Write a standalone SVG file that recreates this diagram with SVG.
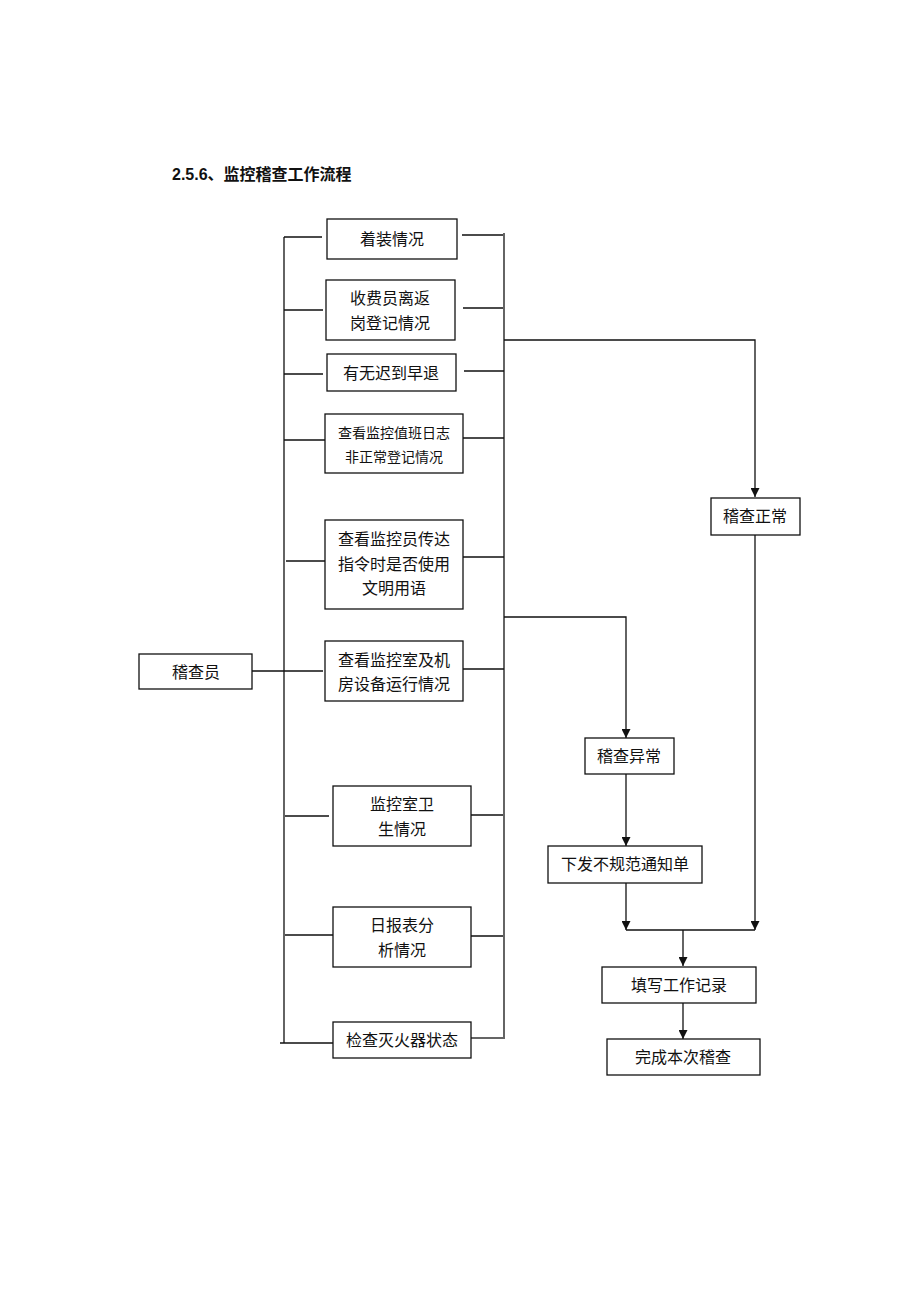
<svg xmlns="http://www.w3.org/2000/svg" width="920" height="1302" viewBox="0 0 920 1302">
<style>
.b{fill:#fff;stroke:#111;stroke-width:1.3}
.l{fill:none;stroke:#111;stroke-width:1.3}
.t{font-family:"Liberation Serif","Noto Sans CJK SC",serif;font-size:16px;fill:#111;text-anchor:middle}
.s{font-size:14px}
.h{font-family:"Liberation Sans","Noto Sans CJK SC",sans-serif;font-size:16px;font-weight:bold;fill:#111}
</style>
<defs>
<marker id="a" viewBox="0 0 10 10" refX="10" refY="5" markerWidth="9" markerHeight="9" markerUnits="userSpaceOnUse" orient="auto"><path d="M0,0L10,5L0,10Z" fill="#111"/></marker>
</defs>
<rect width="920" height="1302" fill="#fff"/>
<text class="h" x="172" y="180">2.5.6、监控稽查工作流程</text>
<g id="connectors">
<path class="l" d="M284,237V1043M280,1043H333"/>
<path class="l" d="M504,233V1039"/>
<path class="l" d="M284,237H322M462,235H503"/>
<path class="l" d="M284,310H323M463,308H503"/>
<path class="l" d="M284,374H323M464,371H504"/>
<path class="l" d="M284,440H325M463,438H504"/>
<path class="l" d="M286,561H325M463,557H504"/>
<path class="l" d="M252,671H323M463,669H504"/>
<path class="l" d="M285,816H329M471,815H503"/>
<path class="l" d="M285,935H333M471,936H503"/>
<path class="l" d="M471,1038H503"/>
<path class="l" d="M504,340H755V497" marker-end="url(#a)"/>
<path class="l" d="M755,535V930" marker-end="url(#a)"/>
<path class="l" d="M504,617H626V738" marker-end="url(#a)"/>
<path class="l" d="M626,774V846" marker-end="url(#a)"/>
<path class="l" d="M626,883V930" marker-end="url(#a)"/>
<path class="l" d="M626,930H755"/>
<path class="l" d="M683,930V966" marker-end="url(#a)"/>
<path class="l" d="M683,1003V1039" marker-end="url(#a)"/>
</g>
<g id="n1"><rect class="b" x="327" y="219" width="130" height="40"/><text class="t" x="392" y="245">着装情况</text></g>
<g id="n2"><rect class="b" x="326" y="280" width="129" height="60"/><text class="t" x="390" y="304">收费员离返</text><text class="t" x="390" y="329">岗登记情况</text></g>
<g id="n3"><rect class="b" x="327" y="354" width="129" height="37"/><text class="t" x="391" y="379">有无迟到早退</text></g>
<g id="n4"><rect class="b" x="325" y="414" width="138" height="59"/><text class="t s" x="394" y="438">查看监控值班日志</text><text class="t s" x="394" y="462">非正常登记情况</text></g>
<g id="n5"><rect class="b" x="325" y="520" width="138" height="89"/><text class="t" x="394" y="545">查看监控员传达</text><text class="t" x="394" y="570">指令时是否使用</text><text class="t" x="394" y="594">文明用语</text></g>
<g id="n6"><rect class="b" x="325" y="641" width="138" height="60"/><text class="t" x="394" y="666">查看监控室及机</text><text class="t" x="394" y="690">房设备运行情况</text></g>
<g id="n7"><rect class="b" x="333" y="786" width="138" height="60"/><text class="t" x="402" y="810">监控室卫</text><text class="t" x="402" y="835">生情况</text></g>
<g id="n8"><rect class="b" x="333" y="907" width="138" height="60"/><text class="t" x="402" y="931">日报表分</text><text class="t" x="402" y="956">析情况</text></g>
<g id="n9"><rect class="b" x="333" y="1022" width="138" height="36"/><text class="t" x="402" y="1046">检查灭火器状态</text></g>
<g id="n10"><rect class="b" x="139" y="654" width="113" height="35"/><text class="t" x="196" y="678">稽查员</text></g>
<g id="n11"><rect class="b" x="711" y="498" width="89" height="37"/><text class="t" x="755" y="522">稽查正常</text></g>
<g id="n12"><rect class="b" x="585" y="738" width="89" height="36"/><text class="t" x="629" y="762">稽查异常</text></g>
<g id="n13"><rect class="b" x="548" y="846" width="154" height="37"/><text class="t" x="625" y="870">下发不规范通知单</text></g>
<g id="n14"><rect class="b" x="602" y="967" width="154" height="36"/><text class="t" x="679" y="991">填写工作记录</text></g>
<g id="n15"><rect class="b" x="607" y="1039" width="153" height="36"/><text class="t" x="683" y="1063">完成本次稽查</text></g>
</svg>
